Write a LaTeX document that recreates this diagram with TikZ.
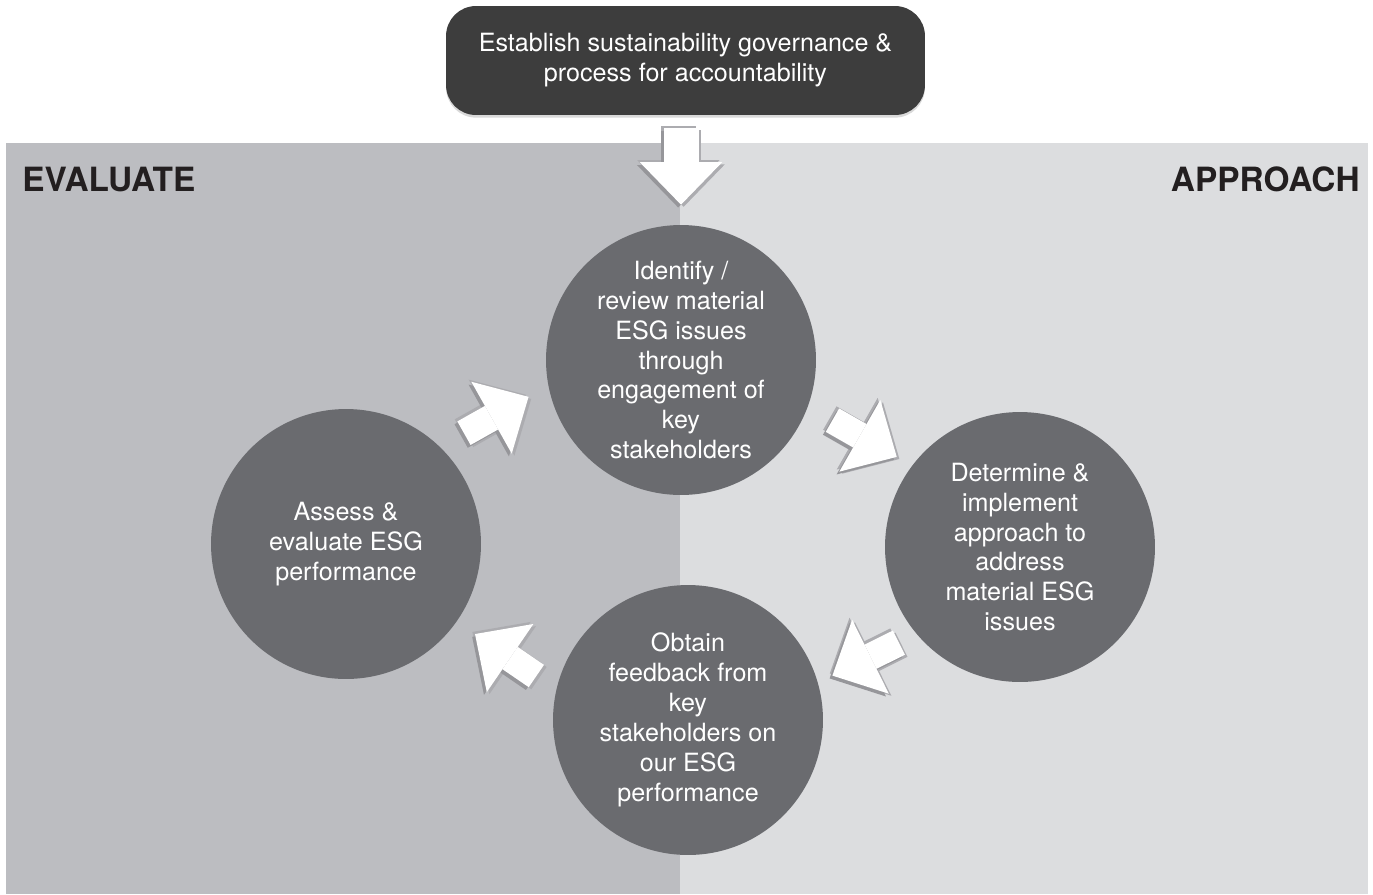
\documentclass[tikz,border=0pt]{standalone}
\usepackage{fontspec}
\setmainfont{TeX Gyre Heros}
\usepackage{xcolor}
\usetikzlibrary{arrows.meta, shadows}

\definecolor{evalgray}{RGB}{188,189,193}
\definecolor{apprgray}{RGB}{220,221,223}
\definecolor{stagegray}{RGB}{106,107,111}
\definecolor{govgray}{RGB}{61,61,61}
\definecolor{labelblack}{RGB}{35,31,32}
\definecolor{shadegray}{RGB}{150,150,154}
\definecolor{haloshade}{RGB}{172,172,176}

\begin{document}
\begin{tikzpicture}[
    x=0.02cm, y=-0.02cm,
    stage/.style = {circle, fill=stagegray, minimum size=5.4cm, inner sep=0pt, text=white, align=center, font=\fontsize{14.3}{17}\selectfont},
    govbox/.style = {rectangle, rounded corners=0.6cm, fill=govgray, text=white, minimum width=9.58cm, minimum height=2.18cm, align=center, font=\fontsize{14.3}{17}\selectfont, drop shadow={shadow xshift=0pt, shadow yshift=-1.5pt, opacity=.3}},
    panel/.style = {inner sep=0pt, text=labelblack, font=\bfseries\fontsize{19}{22}\selectfont},
    flow/.style = {draw=white, fill=white, line width=#1, -{Triangle[width=1.65cm, length=0.85cm, line width=0pt]},
        preaction={draw=haloshade, fill=haloshade, line width=#1, transform canvas={xshift=1.5pt, yshift=-1.2pt}},
        preaction={draw=haloshade, fill=haloshade, line width=#1, transform canvas={xshift=-1.5pt, yshift=1.2pt}},
        preaction={draw=shadegray, fill=shadegray, line width=#1, transform canvas={xshift=-1.6pt, yshift=-1.6pt}}},
    flow/.default = 0.54cm
]
\useasboundingbox (0,0) rectangle (1373,894);

% Background panels
\fill[evalgray] (6,143) rectangle (680,894);
\fill[apprgray] (680,143) rectangle (1368,894);
\node (evaluate) [panel, anchor=base west] at (22,191) {EVALUATE};
\node (approach) [panel, anchor=base east] at (1360,191) {APPROACH};

% Nodes
\node (govern) [govbox] at (685.5,60.5) {Establish sustainability governance \&\\process for accountability};
\node (identify) [stage] at (681,360) {Identify /\\review material\\ESG issues\\through\\engagement of\\key\\stakeholders};
\node (determine) [stage] at (1020,547) {Determine \&\\implement\\approach to\\address\\material ESG\\issues};
\node (feedback) [stage] at (688,720) {Obtain\\feedback from\\key\\stakeholders on\\our ESG\\performance};
\node (assess) [stage] at (346,544) {Assess \&\\evaluate ESG\\performance};

% Arrows
\draw [flow=0.7cm, shorten <=0.26cm, shorten >=0.4cm] (govern.south -| identify.north) -- (identify.north);
\draw [flow, shorten <=0.55cm, shorten >=0.45cm] (assess.46) -- (identify.191);
\draw [flow, shorten <=0.56cm, shorten >=0.35cm] (identify.-20) -- (determine.143);
\draw [flow, shorten <=0.39cm, shorten >=0.32cm] (determine.220) -- (feedback.16);
\draw [flow, shorten <=0.48cm, shorten >=0.44cm] (feedback.167) -- (assess.-35);

\end{tikzpicture}
\end{document}
